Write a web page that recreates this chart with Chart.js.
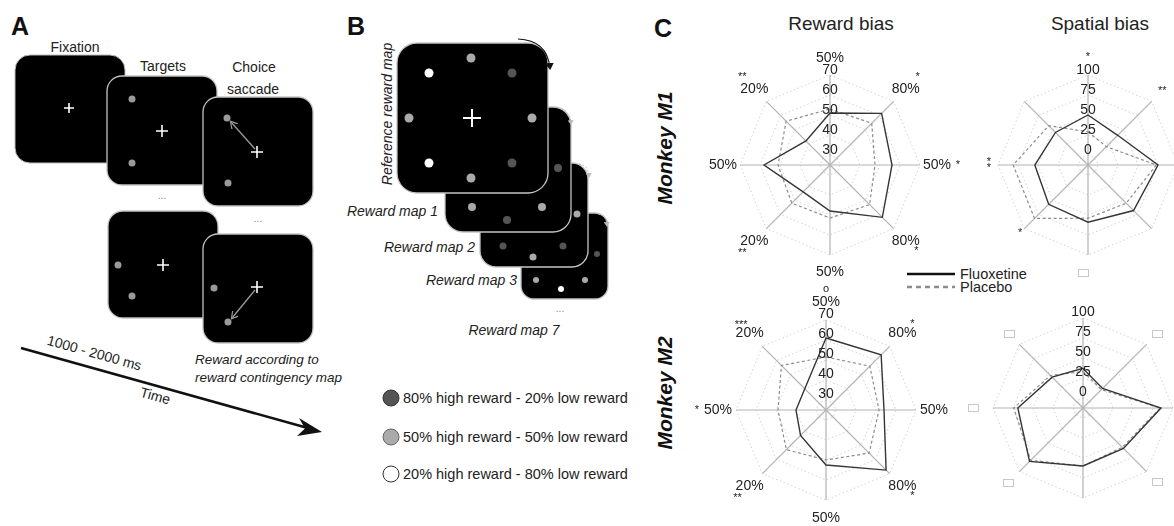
<!DOCTYPE html>
<html><head><meta charset="utf-8">
<script src="https://cdn.jsdelivr.net/npm/chart.js@4/dist/chart.umd.min.js"></script>
<style>
html,body{margin:0;padding:0;background:#fff;}
body{width:1174px;height:526px;overflow:hidden;font-family:"Liberation Sans",Arial,sans-serif;}
#wrap{position:relative;width:1174px;height:526px;overflow:hidden;}
#art{position:absolute;left:0;top:0;}
canvas{position:absolute;}
</style></head>
<body><div id="wrap">
<svg id="art" width="1174" height="526" xmlns="http://www.w3.org/2000/svg" font-family="Liberation Sans, Arial, sans-serif">
<defs>
<marker id="ah" markerWidth="8" markerHeight="8" refX="6" refY="4" orient="auto" markerUnits="userSpaceOnUse"><path d="M0,0 L7,4 L0,8" fill="none" stroke="#9a9a9a" stroke-width="1.2"/></marker>
<marker id="ahb" markerWidth="9" markerHeight="9" refX="5" refY="4.5" orient="auto" markerUnits="userSpaceOnUse"><path d="M0,0 L7,4.5 L0,9 Z" fill="#111"/></marker>
<marker id="ahg" markerWidth="6" markerHeight="6" refX="3" refY="3" orient="auto" markerUnits="userSpaceOnUse"><path d="M0,0 L5,3 L0,6 Z" fill="#bbb"/></marker>
</defs>
<!-- Panel A -->
<text x="11" y="35" font-size="25" font-weight="bold" fill="#111">A</text>
<text x="75" y="52" font-size="14" text-anchor="middle" fill="#222">Fixation</text>
<rect x="15" y="55" width="110" height="108" rx="15" fill="#000" stroke="#bbb" stroke-width="1"/>
<path d="M64,108 H74 M69,103 V113" stroke="#fff" stroke-width="1.6"/>
<text x="163" y="71" font-size="14" text-anchor="middle" fill="#222">Targets</text>
<rect x="107" y="76" width="110" height="109" rx="15" fill="#000" stroke="#c4c4c4" stroke-width="1.3"/>
<circle cx="132" cy="99" r="3.5" fill="#9a9a9a"/><circle cx="132" cy="163" r="3.5" fill="#9a9a9a"/>
<path d="M156,131 H168 M162,125 V137" stroke="#fff" stroke-width="1.6"/>
<text x="254" y="72" font-size="14" text-anchor="middle" fill="#222">Choice</text>
<text x="253" y="94" font-size="14" text-anchor="middle" fill="#222">saccade</text>
<rect x="203" y="97" width="110" height="109" rx="15" fill="#000" stroke="#c4c4c4" stroke-width="1.3"/>
<circle cx="227" cy="118" r="3.5" fill="#9a9a9a"/><circle cx="228" cy="183" r="3.5" fill="#9a9a9a"/>
<line x1="255" y1="149" x2="231" y2="122" stroke="#9a9a9a" stroke-width="1.3" marker-end="url(#ah)"/>
<path d="M251,152 H263 M257,146 V158" stroke="#fff" stroke-width="1.6"/>
<text x="162" y="199" font-size="10" text-anchor="middle" fill="#888">...</text>
<text x="258" y="222" font-size="10" text-anchor="middle" fill="#888">...</text>
<rect x="108" y="211" width="110" height="107" rx="15" fill="#000" stroke="#c4c4c4" stroke-width="1.3"/>
<circle cx="118" cy="265" r="3.5" fill="#9a9a9a"/><circle cx="132" cy="296" r="3.5" fill="#9a9a9a"/>
<path d="M157,265 H169 M163,259 V271" stroke="#fff" stroke-width="1.6"/>
<rect x="203" y="234" width="110" height="109" rx="15" fill="#000" stroke="#c4c4c4" stroke-width="1.3"/>
<circle cx="214" cy="288" r="3.5" fill="#9a9a9a"/><circle cx="228" cy="322" r="3.5" fill="#9a9a9a"/>
<line x1="255" y1="290" x2="232" y2="318" stroke="#9a9a9a" stroke-width="1.3" marker-end="url(#ah)"/>
<path d="M251,287 H263 M257,281 V293" stroke="#fff" stroke-width="1.6"/>
<text x="195" y="364" font-size="13.5" font-style="italic" fill="#222">Reward according to</text>
<text x="195" y="382" font-size="13.5" font-style="italic" fill="#222">reward contingency map</text>
<line x1="21" y1="348" x2="306" y2="427.5" stroke="#111" stroke-width="2.6"/>
<polygon points="322,432 299,418 305,428.5 297,436" fill="#111"/>
<text transform="translate(94,354) rotate(15.6)" font-size="14" text-anchor="middle" dominant-baseline="middle" fill="#222">1000 - 2000 ms</text>
<text transform="translate(155,397) rotate(15.6)" font-size="14" text-anchor="middle" dominant-baseline="middle" fill="#222">Time</text>
<!-- Panel B -->
<text x="347" y="35" font-size="25" font-weight="bold" fill="#111">B</text>
<rect x="521" y="213" width="87" height="86" rx="13" fill="#000" stroke="#c4c4c4" stroke-width="1.3"/>
<circle cx="536" cy="280" r="3" fill="#aaa"/><circle cx="561" cy="289" r="3" fill="#fff"/><circle cx="585" cy="280" r="3" fill="#aaa"/><circle cx="597" cy="254" r="3" fill="#555"/>
<path d="M598,214 Q606,215 607,225" fill="none" stroke="#bbb" stroke-width="1" stroke-dasharray="2,1.5" marker-end="url(#ahg)"/>
<rect x="480" y="163" width="108" height="104" rx="16" fill="#000" stroke="#c4c4c4" stroke-width="1.3"/>
<circle cx="503" cy="246" r="3.5" fill="#555"/><circle cx="533" cy="257" r="3.5" fill="#aaa"/><circle cx="563" cy="246" r="3.5" fill="#555"/><circle cx="577" cy="214" r="3.5" fill="#aaa"/>
<path d="M579,164 Q588,165 589,176" fill="none" stroke="#bbb" stroke-width="1" stroke-dasharray="2,1.5" marker-end="url(#ahg)"/>
<rect x="445" y="107" width="126" height="125" rx="18" fill="#000" stroke="#c4c4c4" stroke-width="1.3"/>
<circle cx="472" cy="207" r="4" fill="#aaa"/><circle cx="507" cy="220" r="4" fill="#555"/><circle cx="542" cy="207" r="4" fill="#aaa"/><circle cx="558" cy="168" r="4" fill="#555"/>
<path d="M558,108 Q569,109 571,123" fill="none" stroke="#bbb" stroke-width="1" stroke-dasharray="2,1.5" marker-end="url(#ahg)"/>
<rect x="397" y="43" width="151" height="150" rx="20" fill="#000" stroke="#c4c4c4" stroke-width="1.3"/>
<circle cx="471" cy="58" r="4.5" fill="#aaa"/><circle cx="429" cy="73" r="4.5" fill="#fff"/><circle cx="512" cy="73" r="4.5" fill="#555"/>
<circle cx="409" cy="118" r="4.5" fill="#aaa"/><circle cx="532" cy="118" r="4.5" fill="#aaa"/>
<circle cx="429" cy="163" r="4.5" fill="#fff"/><circle cx="512" cy="163" r="4.5" fill="#555"/><circle cx="471" cy="178" r="4.5" fill="#aaa"/>
<path d="M463,118 H481 M472,109 V127" stroke="#fff" stroke-width="2"/>
<path d="M518,39 Q547,40 550,68" fill="none" stroke="#111" stroke-width="1.2" marker-end="url(#ahb)"/>
<text transform="translate(392,114) rotate(-90)" font-size="14" font-style="italic" text-anchor="middle" fill="#222">Reference reward map</text>
<text x="438" y="216" font-size="14" font-style="italic" text-anchor="end" fill="#222">Reward map 1</text>
<text x="475" y="252" font-size="14" font-style="italic" text-anchor="end" fill="#222">Reward map 2</text>
<text x="517" y="285" font-size="14" font-style="italic" text-anchor="end" fill="#222">Reward map 3</text>
<text x="560" y="312" font-size="10" text-anchor="middle" fill="#888">...</text>
<text x="514" y="335" font-size="14" font-style="italic" text-anchor="middle" fill="#222">Reward map 7</text>
<circle cx="391" cy="398" r="8" fill="#555" stroke="#333" stroke-width="1"/>
<circle cx="391" cy="437" r="8" fill="#aaa" stroke="#666" stroke-width="1"/>
<circle cx="391" cy="474" r="8" fill="#fff" stroke="#333" stroke-width="1"/>
<text x="403" y="403" font-size="14.5" fill="#222">80% high reward - 20% low reward</text>
<text x="403" y="442" font-size="14.5" fill="#222">50% high reward - 50% low reward</text>
<text x="403" y="479" font-size="14.5" fill="#222">20% high reward - 80% low reward</text>
<!-- Panel C text -->
<text x="654" y="37" font-size="25" font-weight="bold" fill="#111">C</text>
<text x="841" y="30" font-size="19" text-anchor="middle" fill="#222">Reward bias</text>
<text x="1100" y="30" font-size="19" text-anchor="middle" fill="#222">Spatial bias</text>
<text transform="translate(672,148) rotate(-90)" font-size="21" font-weight="bold" font-style="italic" text-anchor="middle" fill="#111">Monkey M1</text>
<text transform="translate(672,393) rotate(-90)" font-size="21" font-weight="bold" font-style="italic" text-anchor="middle" fill="#111">Monkey M2</text>
<line x1="907" y1="274" x2="955" y2="274" stroke="#111" stroke-width="2.6"/>
<line x1="907" y1="287" x2="955" y2="287" stroke="#8c8c8c" stroke-width="2.6" stroke-dasharray="5,4"/>
<text id="lg1" x="960" y="279" font-size="14.5" fill="#222"></text>
<text id="lg2" x="960" y="292" font-size="14.5" fill="#222"></text>
</svg>
<canvas id="m1r" width="300" height="300" style="left:680px;top:15px"></canvas>
<canvas id="m1s" width="300" height="300" style="left:938px;top:15px"></canvas>
<canvas id="m2r" width="300" height="300" style="left:676px;top:260px"></canvas>
<canvas id="m2s" width="300" height="300" style="left:933px;top:258px"></canvas>
</div>
<script>
// ---------- data ----------
const seriesNames = ['Fluoxetine', 'Placebo'];
const rewardAxes = ['50%', '80%', '50%', '80%', '50%', '20%', '50%', '20%'];
const spatialAxes = ['up', 'up-right', 'right', 'down-right', 'down', 'down-left', 'left', 'up-left'];
const rewardTicks = [30, 40, 50, 60, 70];
const spatialTicks = [0, 25, 50, 75, 100];

const m1RewardFluoxetine = [51, 61.5, 56, 62, 48, 44, 58, 42];
const m1RewardPlacebo    = [53, 54.5, 47.5, 53, 51.5, 52, 51, 56];
const m1SpatialFluoxetine = [50, 40, 75, 68, 59, 57, 54, 45];
const m1SpatialPlacebo    = [29, 20, 73, 55, 54, 82, 81, 57];
const m2RewardFluoxetine = [61, 64, 54, 67.5, 52.5, 43, 40, 40];
const m2RewardPlacebo    = [51.5, 56, 51.5, 55.5, 50, 53, 49, 56.5];
const m2SpatialFluoxetine = [37, 22, 85, 59, 60, 82, 69, 42];
const m2SpatialPlacebo    = [33, 20, 84, 57, 60, 80, 74, 45];

const m1RewardMarks  = ['', '*', '*', '*', '', '**', '', '**'];
const m2RewardMarks  = ['o', '*', '', '*', '', '**', '*', '***'];
const m1SpatialMarks = ['*', '**', '', '', '', '*', '**', ''];
const m2SpatialBoxes = [true, true, false, true, false, true, true, true];

document.getElementById('lg1').textContent = seriesNames[0];
document.getElementById('lg2').textContent = seriesNames[1];

// ---------- overlay plugin (tick labels, axis labels, significance marks) ----------
const FONT = '"Liberation Sans", Arial, sans-serif';
const overlayPlugin = {
  id: 'overlay',
  afterDraw(chart, args, o) {
    const s = chart.scales.r, ctx = chart.ctx;
    ctx.save();
    ctx.fillStyle = '#222';
    ctx.textAlign = 'center';
    ctx.textBaseline = 'middle';
    ctx.font = '14px ' + FONT;
    (o.ticks || []).forEach(v => {
      const d = s.getDistanceFromCenterForValue(v);
      ctx.fillText(String(v), s.xCenter, s.yCenter - d - o.tickLift);
    });
    (o.axisLabels || []).forEach((t, i) => {
      const p = s.getPointPosition(i, o.labelDist);
      ctx.fillText(t, p.x, p.y);
    });
    ctx.font = '11px ' + FONT;
    (o.marks || []).forEach((t, i) => {
      if (!t) return;
      const p = s.getPointPosition(i, o.markDist[i]);
      if (o.vertical && o.vertical.includes(i)) {
        [...t].forEach((c, k) => ctx.fillText(c, p.x, p.y - 3 + k * 6));
      } else {
        ctx.fillText(t, p.x, p.y);
      }
    });
    if (o.boxes) {
      ctx.strokeStyle = '#c8c8c8';
      ctx.lineWidth = 1;
      o.boxes.forEach((b, i) => {
        if (!b) return;
        const p = s.getPointPosition(i, o.markDist[i]);
        ctx.strokeRect(Math.round(p.x - 5) + 0.5, Math.round(p.y - 4) + 0.5, 10, 7);
      });
    }
    ctx.restore();
  }
};

function makeRadar(id, axes, fluo, plac, min, max, step, ov) {
  return new Chart(document.getElementById(id), {
    type: 'radar',
    data: {
      labels: axes,
      datasets: [
        {label: seriesNames[0], data: fluo, borderColor: '#353535', borderWidth: 1.4, pointRadius: 0, fill: false},
        {label: seriesNames[1], data: plac, borderColor: '#8c8c8c', borderWidth: 1.2, borderDash: [3, 2.5], pointRadius: 0, fill: false}
      ]
    },
    options: {
      responsive: false, animation: false, events: [],
      layout: {padding: 60},
      plugins: {legend: {display: false}, tooltip: {enabled: false}, overlay: ov},
      scales: {
        r: {
          min: min, max: max,
          ticks: {display: false, stepSize: step},
          pointLabels: {display: false},
          grid: {circular: false, color: '#d2d2d2', lineWidth: 1},
          border: {dash: [1.5, 2.5]},
          angleLines: {color: '#b3b3b3', lineWidth: 1.2}
        }
      }
    },
    plugins: [overlayPlugin]
  });
}

makeRadar('m1r', rewardAxes, m1RewardFluoxetine, m1RewardPlacebo, 25, 70, 10, {
  ticks: rewardTicks, tickLift: 5, axisLabels: rewardAxes, labelDist: 107,
  marks: m1RewardMarks, markDist: [121, 124, 128, 122, 121, 124, 128, 124]
});
makeRadar('m1s', spatialAxes, m1SpatialFluoxetine, m1SpatialPlacebo, -12.5, 100, 25, {
  ticks: spatialTicks, tickLift: 5, axisLabels: [], labelDist: 107,
  marks: m1SpatialMarks, markDist: [108, 105, 110, 105, 108, 96, 99, 105], vertical: [6]
});
makeRadar('m2r', rewardAxes, m2RewardFluoxetine, m2RewardPlacebo, 25, 70, 10, {
  ticks: rewardTicks, tickLift: 6, axisLabels: rewardAxes, labelDist: 108,
  marks: m2RewardMarks, markDist: [121, 122, 128, 122, 121, 125, 129, 120]
});
makeRadar('m2s', spatialAxes, m2SpatialFluoxetine, m2SpatialPlacebo, -12.5, 100, 25, {
  ticks: spatialTicks, tickLift: 6, axisLabels: [], labelDist: 107,
  marks: [], boxes: m2SpatialBoxes, markDist: [135, 105, 110, 105, 110, 106, 110, 104]
});
</script>
</body></html>
